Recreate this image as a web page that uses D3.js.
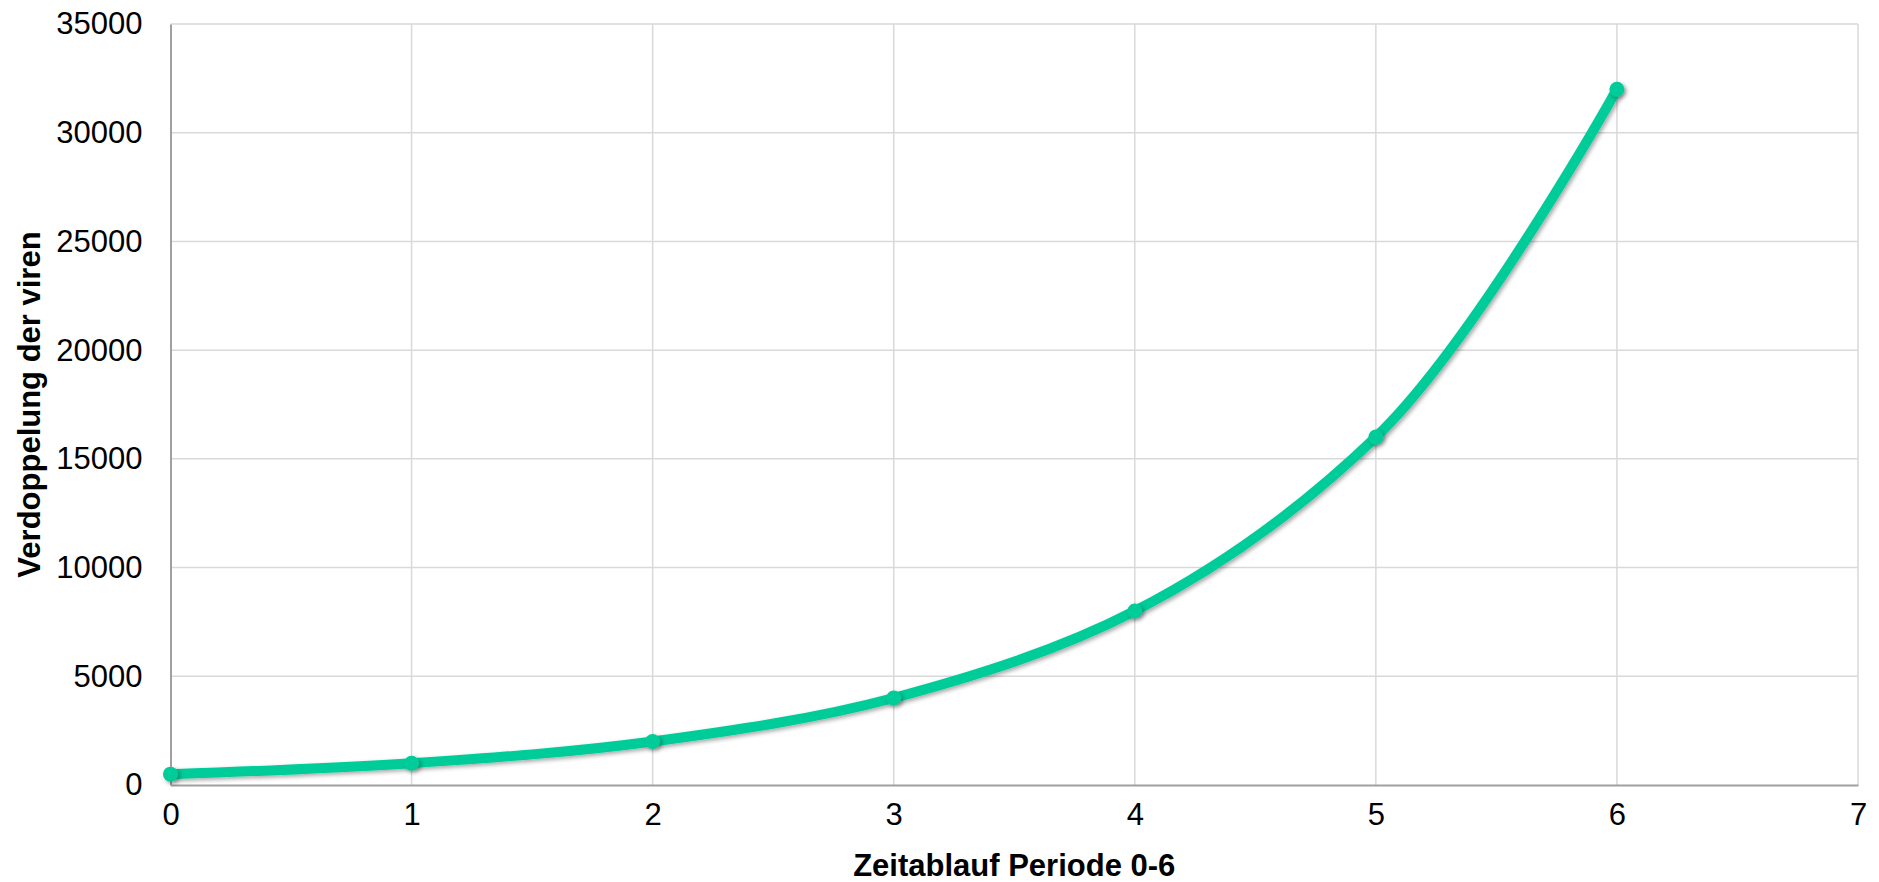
<!DOCTYPE html>
<html>
<head>
<meta charset="utf-8">
<script src="https://cdn.jsdelivr.net/npm/d3@7"></script>
<style>
  html, body { margin: 0; padding: 0; background: #fff; }
  svg { display: block; font-family: "Liberation Sans", Arial, sans-serif; }
</style>
</head>
<body>
<div id="chart"></div>
<script>
const periods = [0, 1, 2, 3, 4, 5, 6];
const viren = [500, 1000, 2000, 4000, 8000, 16000, 32000];
const xTicks = [0, 1, 2, 3, 4, 5, 6, 7];
const yTicks = [0, 5000, 10000, 15000, 20000, 25000, 30000, 35000];
const xTitle = "Zeitablauf Periode 0-6";
const yTitle = "Verdoppelung der viren";

const width = 1879, height = 882;
const margin = { top: 24, right: 21, bottom: 97, left: 170.5 };
const lineColor = "#00cc99";

const x = d3.scaleLinear().domain([0, 7]).range([margin.left, width - margin.right]);
const y = d3.scaleLinear().domain([0, 35000]).range([height - margin.bottom, margin.top]);

const svg = d3.select("#chart").append("svg")
  .attr("width", width)
  .attr("height", height);

const defs = svg.append("defs");
const shadow = defs.append("filter").attr("id", "shadow")
  .attr("x", "-50%").attr("y", "-50%").attr("width", "200%").attr("height", "200%");
shadow.append("feDropShadow")
  .attr("dx", 2).attr("dy", 2).attr("stdDeviation", 2)
  .attr("flood-color", "#000").attr("flood-opacity", 0.35);

// grid
svg.append("g")
  .selectAll("line")
  .data(yTicks.slice(1))
  .join("line")
  .attr("x1", margin.left).attr("x2", width - margin.right)
  .attr("y1", (d) => y(d)).attr("y2", (d) => y(d))
  .attr("stroke", "#d9d9d9").attr("stroke-width", 1.5);

svg.append("g")
  .selectAll("line")
  .data(xTicks.slice(1))
  .join("line")
  .attr("x1", (d) => x(d)).attr("x2", (d) => x(d))
  .attr("y1", margin.top).attr("y2", height - margin.bottom)
  .attr("stroke", "#d9d9d9").attr("stroke-width", 1.5);

// axes
const gX = svg.append("g")
  .attr("transform", `translate(0,${height - margin.bottom})`)
  .call(d3.axisBottom(x).tickValues(xTicks).tickSize(0).tickPadding(18).tickFormat(d3.format("d")));
const gY = svg.append("g")
  .attr("transform", `translate(${margin.left},0)`)
  .call(d3.axisLeft(y).tickValues(yTicks).tickSize(0).tickPadding(28).tickFormat(d3.format("d")));

[gX, gY].forEach((g) => {
  g.select(".domain").attr("stroke", "#a0a0a0").attr("stroke-width", 2);
  g.selectAll("text").attr("font-size", 31).attr("fill", "#000")
    .attr("font-family", "'Liberation Sans', Arial, sans-serif");
});

// titles
svg.append("text")
  .attr("x", (margin.left + width - margin.right) / 2)
  .attr("y", 876)
  .attr("text-anchor", "middle")
  .attr("font-size", 31)
  .attr("font-weight", "bold")
  .text(xTitle);

svg.append("text")
  .attr("transform", `translate(40,${(margin.top + height - margin.bottom) / 2}) rotate(-90)`)
  .attr("text-anchor", "middle")
  .attr("font-size", 31)
  .attr("font-weight", "bold")
  .text(yTitle);

// smoothed line, like the spreadsheet's
const data = periods.map((p, i) => [p, viren[i]]);
const line = d3.line()
  .x((d) => x(d[0]))
  .y((d) => y(d[1]))
  .curve(d3.curveCatmullRom.alpha(1));

svg.append("path")
  .datum(data)
  .attr("fill", "none")
  .attr("stroke", lineColor)
  .attr("stroke-width", 10)
  .attr("stroke-linecap", "round")
  .attr("filter", "url(#shadow)")
  .attr("d", line);

svg.append("g")
  .selectAll("circle")
  .data(data)
  .join("circle")
  .attr("cx", (d) => x(d[0]))
  .attr("cy", (d) => y(d[1]))
  .attr("r", 7.5)
  .attr("fill", lineColor)
  .attr("filter", "url(#shadow)");
</script>
</body>
</html>
